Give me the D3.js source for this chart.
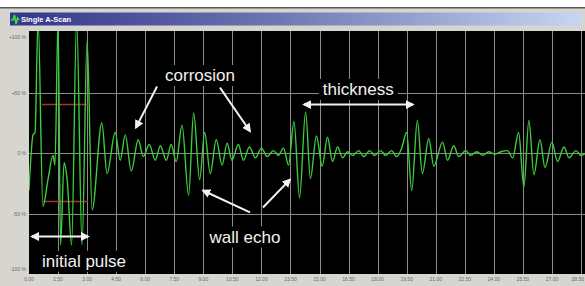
<!DOCTYPE html>
<html>
<head>
<meta charset="utf-8">
<script src="https://cdn.jsdelivr.net/npm/d3@7"></script>
<style>
    body { margin: 0; background: #ffffff; }
    svg { display: block; }
</style>
</head>
<body>
<div id="visual"></div>
<script>
// A-scan trace: time (x) and amplitude in % (y) at every turning point
var scanTime = [0.00, 0.21, 0.31, 0.47, 0.72, 0.98, 1.24, 1.34, 1.50, 1.63, 1.81, 1.97, 2.20, 2.46, 2.74, 3.00, 3.26,
    3.76, 4.03, 4.45, 4.71, 4.97, 5.28, 5.64, 5.90, 6.21, 6.52, 6.78, 7.09, 7.34, 7.60,
    7.90, 8.24, 8.50, 8.81, 9.07, 9.36, 9.67, 9.97, 10.23, 10.48, 10.81, 11.07, 11.38, 11.69, 12.00, 12.30, 12.62, 12.88, 13.14, 13.40,
    13.68, 13.97, 14.28, 14.53, 14.84, 15.14, 15.41, 15.67, 15.93, 16.19, 16.45, 16.71, 17.02, 17.28, 17.59, 17.84, 18.16, 18.41, 18.72, 18.98, 19.24,
    19.50, 19.76, 20.05, 20.31, 20.64, 20.90, 21.35, 21.61, 21.93, 22.19, 22.55, 22.81, 23.12, 23.43, 23.74, 24.05, 24.36,
    24.71, 24.97, 25.28, 25.55, 25.81, 26.07, 26.38, 26.64, 27.00, 27.29, 27.62, 27.88, 28.24, 28.50, 28.76];

var scanAmp = [-31, 15, 17, 110, -44, -22, -2, -10, 110, -76, -8, -22, -76, 110, -76, 93, -47,
    25, -17, 17, -6, 15, -15, 11, -3, 7, -6, 6, -6, 7, -7,
    23, -35, 33, -22, 17, -17, 11, -10, 8, -6, 7, -6, 5, -4, 4, -3, 2, -2, 4, -10,
    26, -37, 34, -21, 14, -11, 13, -7, 5, -4, 1, -2, 2, -3, 2, -2, 2, -2, 2, -3, 4,
    17, -31, 27, -17, 12, -11, 9, -6, 6, -3, 2, -2, 1, -2, 1, -1, 1,
    2, -4, 17, -28, 27, -18, 11, -12, 9, -7, 5, -4, 2, -2, 0];

// axis ticks
var xTicks = [0, 1.5, 3, 4.5, 6, 7.5, 9, 10.5, 12, 13.5, 15, 16.5, 18, 19.5, 21, 22.5, 24, 25.5, 27, 28.5];
var yTicks = [100, 50, 0, -50, -100];
var yTickLabels = ["+100 %", "+50 %", "0 %", "-50 %", "-100 %"];

// gate levels (%) drawn in red over the initial pulse
var gateLevels = [40, -40];
var gateStart = [0.67, 0.72];
var gateEnd = [3.05, 3.05];

var titleText = "Single A-Scan";


function chart() {

    var w = 585, h = 286;
    var plotLeft = 29, plotRight = 585, plotTop = 31, plotBottom = 274;

    var svg = d3.select("#visual").append("svg").attr("width", w).attr("height", h);

    var defs = svg.append("defs");

    // window frame
    svg.append("rect").attr("x", 0).attr("y", 8).attr("width", w).attr("height", h - 8).style("fill", "#d6d5cf");
    svg.append("rect").attr("x", 0).attr("y", 7).attr("width", w).attr("height", 1.5).style("fill", "#5a5a5a");

    var grad = defs.append("linearGradient").attr("id", "titleGrad");
    grad.append("stop").attr("offset", "0%").attr("stop-color", "#34348a");
    grad.append("stop").attr("offset", "45%").attr("stop-color", "#6a74b0");
    grad.append("stop").attr("offset", "100%").attr("stop-color", "#c6d6f2");

    svg.append("rect")
        .attr("x", 10).attr("y", 12.5).attr("width", 572).attr("height", 13)
        .style("fill", "url(#titleGrad)");

    // little green icon in title bar
    svg.append("path")
        .attr("d", "M11,20 L13,20 L14.5,15 L16,24 L17.5,18 L19,20")
        .style("fill", "none").style("stroke", "#3fdc3f").style("stroke-width", 1.6);

    svg.append("text")
        .attr("x", 21).attr("y", 22)
        .text(titleText)
        .attr("font-family", "Liberation Sans, Arial, sans-serif")
        .attr("font-size", "7.5px")
        .attr("font-weight", "bold")
        .style("fill", "#ffffff");

    // scales
    var xScale = d3.scaleLinear().domain([0, 28.5]).range([plotLeft, 581]);
    var yScale = d3.scaleLinear().domain([-100, 100]).range([plotBottom, plotTop + 1]);

    // plot background
    svg.append("rect")
        .attr("x", plotLeft).attr("y", plotTop)
        .attr("width", plotRight - plotLeft).attr("height", plotBottom - plotTop)
        .style("fill", "#000000");

    defs.append("clipPath").attr("id", "plotClip")
        .append("rect")
        .attr("x", plotLeft).attr("y", plotTop)
        .attr("width", plotRight - plotLeft).attr("height", plotBottom - plotTop);

    var plot = svg.append("g").attr("clip-path", "url(#plotClip)");

    // grid
    plot.selectAll(".vgrid")
        .data(xTicks.slice(1))
        .enter()
        .append("line")
        .attr("x1", function (d) { return Math.round(xScale(d)) + 0.5; })
        .attr("x2", function (d) { return Math.round(xScale(d)) + 0.5; })
        .attr("y1", plotTop).attr("y2", plotBottom)
        .style("stroke", "#8c8c8c").style("stroke-width", 1);

    plot.selectAll(".hgrid")
        .data([50, 0, -50])
        .enter()
        .append("line")
        .attr("x1", plotLeft).attr("x2", plotRight)
        .attr("y1", function (d) { return Math.round(yScale(d)) + 0.5; })
        .attr("y2", function (d) { return Math.round(yScale(d)) + 0.5; })
        .style("stroke", "#8c8c8c").style("stroke-width", 1);

    // red gates
    plot.selectAll(".gate")
        .data(gateLevels)
        .enter()
        .append("line")
        .attr("x1", function (d, i) { return xScale(gateStart[i]); })
        .attr("x2", function (d, i) { return xScale(gateEnd[i]); })
        .attr("y1", function (d) { return yScale(d); })
        .attr("y2", function (d) { return yScale(d); })
        .style("stroke", "#a8342c").style("stroke-width", 1.5);

    // signal
    var line = d3.line()
        .x(function (d, i) { return xScale(scanTime[i]); })
        .y(function (d) { return yScale(d); })
        .curve(d3.curveMonotoneX);

    plot.append("path")
        .datum(scanAmp)
        .attr("d", line)
        .style("fill", "none")
        .style("stroke", "#3ccc3c")
        .style("stroke-width", 1.4);

    // annotations (white text on black, white arrows)
    var white = "#f2f2f2";

    defs.append("marker")
        .attr("id", "head")
        .attr("viewBox", "0 0 10 10")
        .attr("refX", 8).attr("refY", 5)
        .attr("markerWidth", 4.5).attr("markerHeight", 4.5)
        .attr("orient", "auto-start-reverse")
        .append("path")
        .attr("d", "M0,0 L10,5 L0,10 Z")
        .style("fill", white);

    var notes = [
        { text: "corrosion", t: 8.83, a: 59.5 },
        { text: "thickness", t: 17.0, a: 48 },
        { text: "wall echo", t: 11.15, a: -74 },
        { text: "initial pulse", t: 2.84, a: -94 }
    ];

    var noteG = svg.append("g");
    notes.forEach(function (n) {
        var g = noteG.append("g");
        var txt = g.append("text")
            .attr("x", xScale(n.t))
            .attr("y", yScale(n.a))
            .attr("text-anchor", "middle")
            .text(n.text)
            .attr("font-family", "Liberation Sans, Arial, sans-serif")
            .attr("font-size", "17px")
            .style("fill", white);
        var bb = txt.node().getBBox();
        g.insert("rect", "text")
            .attr("x", bb.x - 4).attr("y", bb.y - 1)
            .attr("width", bb.width + 8).attr("height", Math.min(bb.height + 2, plotBottom - bb.y + 1))
            .style("fill", "#000000");
    });

    var arrows = [
        { t1: 6.61, a1: 55, t2: 5.52, a2: 21, both: false },
        { t1: 9.86, a1: 54, t2: 11.41, a2: 18, both: false },
        { t1: 14.2, a1: 40, t2: 19.82, a2: 40, both: true },
        { t1: 11.41, a1: -49, t2: 8.98, a2: -31, both: false },
        { t1: 12.08, a1: -45, t2: 13.47, a2: -22, both: false },
        { t1: 0.15, a1: -69, t2: 3.05, a2: -69, both: true }
    ];

    svg.selectAll(".arrow")
        .data(arrows)
        .enter()
        .append("line")
        .attr("x1", function (d) { return xScale(d.t1); })
        .attr("y1", function (d) { return yScale(d.a1); })
        .attr("x2", function (d) { return xScale(d.t2); })
        .attr("y2", function (d) { return yScale(d.a2); })
        .attr("marker-end", "url(#head)")
        .attr("marker-start", function (d) { return d.both ? "url(#head)" : null; })
        .style("stroke", white)
        .style("stroke-width", 2);

    // axis labels
    svg.selectAll(".ylab")
        .data(yTicks)
        .enter()
        .append("text")
        .attr("x", 26)
        .attr("y", function (d) {
            return Math.max(plotTop + 6, Math.min(plotBottom - 5, yScale(d))) + 2;
        })
        .attr("text-anchor", "end")
        .text(function (d, i) { return yTickLabels[i]; })
        .attr("font-family", "Liberation Sans, Arial, sans-serif")
        .attr("font-size", "5px")
        .style("fill", "#6a6a6a");

    svg.selectAll(".xlab")
        .data(xTicks)
        .enter()
        .append("text")
        .attr("x", function (d, i) { return i == xTicks.length - 1 ? w - 1 : xScale(d); })
        .attr("y", 281)
        .attr("text-anchor", function (d, i) { return i == xTicks.length - 1 ? "end" : "middle"; })
        .text(function (d) { return d3.format(".2f")(d); })
        .attr("font-family", "Liberation Sans, Arial, sans-serif")
        .attr("font-size", "5px")
        .style("fill", "#6a6a6a");
}

window.onload = chart;
</script>
</body>
</html>
